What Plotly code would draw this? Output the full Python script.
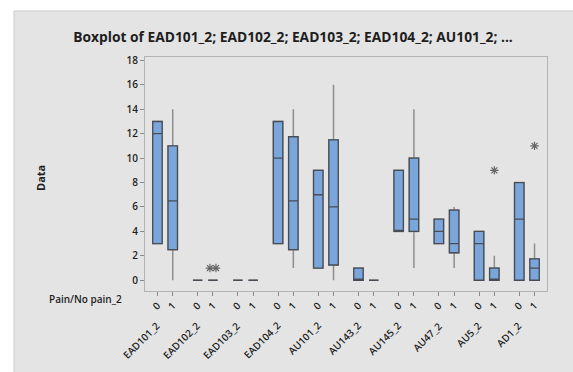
import plotly.graph_objects as go

# Variables and the two Pain/No pain_2 levels shown for each
groups = ["EAD101_2", "EAD102_2", "EAD103_2", "EAD104_2", "AU101_2",
          "AU143_2", "AU145_2", "AU47_2", "AU5_2", "AD1_2"]
levels = ["0", "1"]

# Box statistics, ordered group by group (level 0, then level 1)
q1 = [3, 2.5, 0, 0, 0, 0, 3, 2.5, 1, 1.25, 0, 0, 4, 4, 3, 2.25, 0, 0, 0, 0]
median = [12, 6.5, 0, 0, 0, 0, 10, 6.5, 7, 6, 0, 0, 4, 5, 4, 3, 3, 0, 5, 1]
q3 = [13, 11, 0, 0, 0, 0, 13, 11.75, 9, 11.5, 1, 0, 9, 10, 5, 5.75, 4, 1, 8, 1.75]
lower_whisker = [3, 0, 0, 0, 0, 0, 3, 1, 1, 0, 0, 0, 4, 1, 3, 1, 0, 0, 0, 0]
upper_whisker = [13, 14, 0, 0, 0, 0, 13, 14, 9, 16, 1, 0, 9, 14, 5, 6, 4, 2, 8, 3]
# Outliers keyed by box index
outliers = {3: [1, 1], 17: [9], 19: [11]}

y_ticks = list(range(0, 19, 2))

# ---- layout helpers ----
W, H = 573, 372
L, R, T, B = 145, 26, 57, 81
PW, PH = W - L - R, H - T - B


def px_x(px):
    return (px - L) / PW


def px_y(py):
    return (H - B - py) / PH


offset = 0.19
positions = []
tick_text = []
for g in range(len(groups)):
    for j, lv in enumerate(levels):
        positions.append(g + (-offset if j == 0 else offset))
        tick_text.append(lv)

FILL = "#7BA6DB"
EDGE = "#474c55"
WHISK = "#8e8e8e"
FONT = "Open Sans"
TXT = "#1e1e1e"

fig = go.Figure()

# whiskers (full range, gray)
fig.add_trace(go.Box(
    x=positions, q1=q1, median=median, q3=q3,
    lowerfence=lower_whisker, upperfence=upper_whisker,
    width=0.234, whiskerwidth=0, fillcolor=FILL,
    line=dict(color=WHISK, width=1.5), boxpoints=False,
    hoverinfo="skip", showlegend=False,
))
# boxes on top with darker outline
fig.add_trace(go.Box(
    x=positions, q1=q1, median=median, q3=q3,
    lowerfence=q1, upperfence=q3,
    width=0.234, whiskerwidth=0, fillcolor=FILL,
    line=dict(color=EDGE, width=1.3), boxpoints=False,
    showlegend=False,
))

# outlier asterisks, spread sideways when values coincide
ox, oy = [], []
for idx, vals in outliers.items():
    n = len(vals)
    for k, v in enumerate(vals):
        ox.append(positions[idx] + (k - (n - 1) / 2) * 0.15)
        oy.append(v)
fig.add_trace(go.Scatter(
    x=ox, y=oy, mode="markers", showlegend=False,
    marker=dict(symbol="asterisk-open", size=7, color="#666666",
                line=dict(color="#666666", width=1.2)),
))

annotations = []
for g, name in enumerate(groups):
    annotations.append(dict(
        x=g + 0.02, xref="x", y=px_y(316), yref="paper",
        text=name, textangle=-45, showarrow=False,
        xanchor="right", yanchor="top",
        font=dict(family=FONT, size=10, color=TXT, weight=600),
    ))
annotations.append(dict(
    x=px_x(85), y=px_y(299), xref="paper", yref="paper",
    xanchor="center", yanchor="middle",
    text="Pain/No pain_2", showarrow=False,
    font=dict(family=FONT, size=10, color=TXT, weight=600),
))
annotations.append(dict(
    x=px_x(40), y=px_y(178), xref="paper", yref="paper",
    xanchor="center", yanchor="middle",
    text="<b>Data</b>", textangle=-90, showarrow=False,
    font=dict(family=FONT, size=11, color=TXT),
))

fig.update_layout(
    width=W, height=H,
    margin=dict(l=L, r=R, t=T, b=B, pad=0),
    paper_bgcolor="white", plot_bgcolor="white",
    title=dict(text="<b>Boxplot of EAD101_2; EAD102_2; EAD103_2; EAD104_2; AU101_2; ...</b>",
               x=293 / W, xanchor="center", y=1 - 37 / H, yanchor="middle",
               xref="container", yref="container",
               font=dict(family=FONT, size=13.8, color=TXT)),
    annotations=annotations,
    shapes=[dict(type="rect", xref="paper", yref="paper", layer="below",
                 x0=px_x(14), x1=px_x(W + 4), y0=px_y(H + 4), y1=px_y(11),
                 fillcolor="#e4e4e4", line=dict(color="#c9c9c9", width=1))],
    xaxis=dict(range=[-0.5, len(groups) - 0.5], tickvals=positions, ticktext=tick_text,
               tickangle=-45, ticks="outside", ticklen=4, tickcolor="#8a8a8a",
               showline=True, linecolor="#b4b4b4", mirror=True, showgrid=False,
               zeroline=False,
               tickfont=dict(family=FONT, size=10, color=TXT, weight=600)),
    yaxis=dict(range=[-0.88, 18.28], tickvals=y_ticks, ticks="outside", ticklen=4,
               tickcolor="#8a8a8a", showline=True, linecolor="#b4b4b4", mirror=True,
               showgrid=False, zeroline=False,
               tickfont=dict(family=FONT, size=10, color=TXT, weight=600)),
)

fig.write_html("out.html")
